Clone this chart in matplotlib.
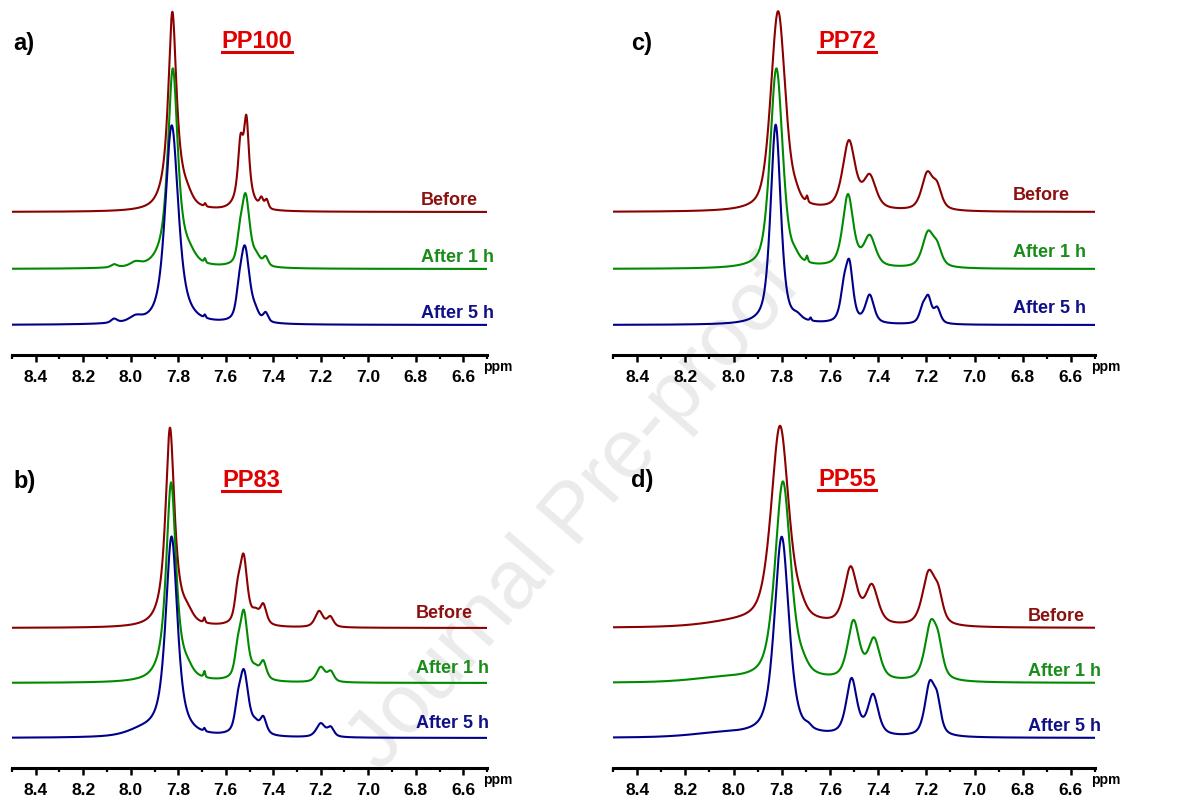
import numpy as np
import matplotlib
matplotlib.use("Agg")
import matplotlib.pyplot as plt
from matplotlib.ticker import MultipleLocator, FormatStrFormatter
from matplotlib.lines import Line2D

plt.rcParams['font.family'] = ['Liberation Sans', 'DejaVu Sans']

# ---------------- data (peak lists) ----------------
# each peak: (chemical shift ppm, height, FWHM ppm, lorentzian fraction)
series_names = ["Before", "After 1 h", "After 5 h"]
panel_titles = ["PP100", "PP83", "PP72", "PP55"]
panel_letters = ["a)", "b)", "c)", "d)"]

pp100_before = [(7.825, 0.80, 0.038, 0.8), (7.82, 0.20, 0.085, 0.6),
                (7.76, 0.03, 0.05, 0.5),
                (7.538, 0.27, 0.026, 0.8), (7.513, 0.38, 0.026, 0.8),
                (7.52, 0.05, 0.080, 0.5),
                (7.450, 0.045, 0.018, 0.5), (7.428, 0.045, 0.018, 0.5),
                (7.687, 0.015, 0.008, 0.5)]
pp100_1h = [(7.823, 0.80, 0.045, 0.6), (7.82, 0.20, 0.095, 0.6),
            (7.75, 0.03, 0.06, 0.5),
            (7.517, 0.36, 0.042, 0.6), (7.542, 0.08, 0.025, 0.5),
            (7.432, 0.045, 0.025, 0.5), (7.47, 0.04, 0.035, 0.5),
            (8.07, 0.015, 0.03, 0.5), (7.98, 0.02, 0.05, 0.5),
            (7.688, 0.02, 0.008, 0.5)]
pp100_5h = [(7.828, 0.82, 0.060, 0.5), (7.82, 0.18, 0.105, 0.6),
            (7.52, 0.38, 0.047, 0.5),
            (7.545, 0.06, 0.025, 0.5), (7.432, 0.045, 0.025, 0.5),
            (7.475, 0.04, 0.035, 0.5), (8.07, 0.02, 0.03, 0.5),
            (7.98, 0.025, 0.06, 0.5), (7.688, 0.015, 0.008, 0.5)]

pp83_before = [(7.835, 0.85, 0.042, 0.8), (7.83, 0.15, 0.085, 0.6),
               (7.76, 0.04, 0.05, 0.5),
               (7.525, 0.34, 0.038, 0.7), (7.550, 0.12, 0.028, 0.5),
               (7.442, 0.10, 0.032, 0.7), (7.475, 0.05, 0.035, 0.5),
               (7.207, 0.08, 0.040, 0.6), (7.160, 0.05, 0.032, 0.6),
               (7.69, 0.025, 0.008, 0.5)]
pp83_1h = [(7.830, 0.85, 0.046, 0.7), (7.83, 0.15, 0.090, 0.6),
           (7.76, 0.03, 0.05, 0.5),
           (7.524, 0.34, 0.040, 0.7), (7.550, 0.10, 0.028, 0.5),
           (7.442, 0.09, 0.032, 0.7), (7.475, 0.04, 0.035, 0.5),
           (7.200, 0.075, 0.042, 0.6), (7.158, 0.05, 0.032, 0.6),
           (7.69, 0.03, 0.008, 0.5)]
pp83_5h = [(7.828, 0.85, 0.055, 0.6), (7.83, 0.15, 0.100, 0.6),
           (7.95, 0.03, 0.15, 0.5),
           (7.524, 0.32, 0.046, 0.6), (7.550, 0.08, 0.028, 0.5),
           (7.442, 0.085, 0.032, 0.7), (7.475, 0.04, 0.035, 0.5),
           (7.200, 0.068, 0.044, 0.6), (7.158, 0.045, 0.032, 0.6),
           (7.69, 0.015, 0.008, 0.5)]

pp72_before = [(7.815, 1.00, 0.072, 0.5), (7.74, 0.03, 0.04, 0.5),
               (7.695, 0.03, 0.009, 0.5), (7.521, 0.34, 0.062, 0.6),
               (7.435, 0.16, 0.062, 0.6), (7.196, 0.18, 0.055, 0.6),
               (7.155, 0.10, 0.045, 0.6)]
pp72_1h = [(7.822, 1.00, 0.062, 0.5), (7.745, 0.03, 0.04, 0.5),
           (7.695, 0.03, 0.009, 0.5), (7.525, 0.36, 0.052, 0.6),
           (7.435, 0.15, 0.058, 0.6), (7.193, 0.17, 0.055, 0.6),
           (7.155, 0.085, 0.045, 0.6)]
pp72_5h = [(7.825, 1.00, 0.050, 0.6), (7.735, 0.02, 0.04, 0.5),
           (7.68, 0.015, 0.008, 0.5), (7.519, 0.27, 0.036, 0.6),
           (7.542, 0.14, 0.035, 0.6), (7.435, 0.14, 0.042, 0.6),
           (7.192, 0.12, 0.032, 0.6), (7.215, 0.07, 0.032, 0.6),
           (7.155, 0.075, 0.032, 0.6)]

pp55_before = [(7.807, 1.00, 0.088, 0.6), (7.72, 0.03, 0.05, 0.5),
               (8.00, 0.02, 0.30, 0.5), (7.514, 0.28, 0.062, 0.6),
               (7.426, 0.19, 0.062, 0.6), (7.190, 0.26, 0.062, 0.6),
               (7.150, 0.12, 0.045, 0.6)]
pp55_1h = [(7.795, 1.00, 0.078, 0.6), (7.71, 0.03, 0.05, 0.5),
           (8.05, 0.02, 0.30, 0.5), (7.502, 0.29, 0.058, 0.6),
           (7.417, 0.20, 0.058, 0.6), (7.182, 0.27, 0.058, 0.6),
           (7.150, 0.13, 0.045, 0.6)]
pp55_5h = [(7.800, 1.00, 0.072, 0.6), (7.69, 0.015, 0.03, 0.5),
           (8.05, 0.02, 0.30, 0.5), (7.510, 0.28, 0.052, 0.6),
           (7.421, 0.20, 0.052, 0.6), (7.186, 0.25, 0.048, 0.6),
           (7.155, 0.14, 0.038, 0.6)]

panel_peaks = [
    [pp100_before, pp100_1h, pp100_5h],
    [pp83_before, pp83_1h, pp83_5h],
    [pp72_before, pp72_1h, pp72_5h],
    [pp55_before, pp55_1h, pp55_5h],
]

tick_values = [8.4, 8.2, 8.0, 7.8, 7.6, 7.4, 7.2, 7.0, 6.8, 6.6]

# ---------------- styling ----------------
W, H = 1192, 796
line_colors = ["#8b0000", "#008a00", "#00008b"]
text_colors = ["#8b1010", "#1a8c1a", "#101088"]
title_color = "#e00000"

# pixel layouts: (left, right, top, axis_y)
layouts = [(12, 487, 5, 355), (12, 487, 418, 768),
           (613, 1095, 5, 355), (613, 1095, 418, 768)]
offsets_list = [[0.565, 0.28, 0.0], [0.55, 0.275, 0.0],
                [0.565, 0.28, 0.0], [0.55, 0.275, 0.0]]
label_x = [421, 416, 1013, 1028]
label_dy = [7, 10, 12, 7]
title_center = [257, 251, 847, 847]
title_base = [48, 487, 48, 486]
letter_x = [13, 13, 631, 631]
letter_base = [50, 488, 50, 487]

px_per_unit = 200.0
ymin = -30 / px_per_unit


def spectrum(x, peaks):
    y = np.zeros_like(x)
    for c, h, fw, eta in peaks:
        d = (x - c) / fw
        lor = 1.0 / (1.0 + 4.0 * d * d)
        gau = np.exp(-4.0 * np.log(2) * d * d)
        y += h * (eta * lor + (1 - eta) * gau)
    return y


fig = plt.figure(figsize=(W / 100, H / 100), dpi=100)
fig.patch.set_facecolor("white")


def ftext(px, py, s, **kw):
    return fig.text(px / W, 1 - py / H, s, **kw)


# watermark
ftext(575, 515, "Journal Pre-proof", fontsize=60, color="#ebebeb",
      rotation=49, ha="center", va="center", zorder=-5)

x = np.linspace(8.5, 6.5, 4000)
titles_artists = []
for i in range(4):
    L, R, T, B = layouts[i]
    ax = fig.add_axes([L / W, 1 - B / H, (R - L) / W, (B - T) / H])
    ax.patch.set_alpha(0)
    ymax = ymin + (B - T) / px_per_unit
    for k in range(3):
        y = spectrum(x, panel_peaks[i][k]) + offsets_list[i][k]
        ax.plot(x, y, color=line_colors[k], lw=1.5, solid_joinstyle="round")
    ax.set_xlim(8.5, 6.5)
    ax.set_ylim(ymin, ymax)
    for s in ["left", "right", "top"]:
        ax.spines[s].set_visible(False)
    ax.spines["bottom"].set_linewidth(2.2)
    ax.set_yticks([])
    ax.set_xticks(tick_values)
    ax.xaxis.set_major_formatter(FormatStrFormatter("%.1f"))
    ax.xaxis.set_minor_locator(MultipleLocator(0.1))
    ax.tick_params(axis="x", which="major", length=5, width=1.8,
                   direction="out", pad=5.5, labelsize=12.5)
    ax.tick_params(axis="x", which="minor", length=3, width=1.6,
                   direction="out")
    for lab in ax.get_xticklabels():
        lab.set_fontweight("bold")
    # series labels
    for k in range(3):
        base_px = B - 30 - offsets_list[i][k] * px_per_unit
        ftext(label_x[i], base_px - label_dy[i], series_names[k],
              fontsize=13, fontweight="bold", color=text_colors[k],
              ha="left", va="baseline")
    ftext(R - 4, B + 12, "ppm", fontsize=10, fontweight="bold",
          ha="left", va="center")
    t = ftext(title_center[i], title_base[i], panel_titles[i], fontsize=17,
              fontweight="bold", color=title_color, ha="center",
              va="baseline")
    titles_artists.append(t)
    ftext(letter_x[i], letter_base[i], panel_letters[i], fontsize=17,
          fontweight="bold", color="black", ha="left", va="baseline")

# underline titles
fig.canvas.draw()
renderer = fig.canvas.get_renderer()
for t in titles_artists:
    bb = t.get_window_extent(renderer)
    x0, x1 = bb.x0, bb.x1
    ybase = t.get_position()[1] * H
    yl = ybase - 4
    fig.add_artist(Line2D([x0 / W, x1 / W], [yl / H, yl / H],
                          color=title_color, lw=2.2,
                          transform=fig.transFigure))

fig.savefig("out.png", dpi=100, facecolor="white")
